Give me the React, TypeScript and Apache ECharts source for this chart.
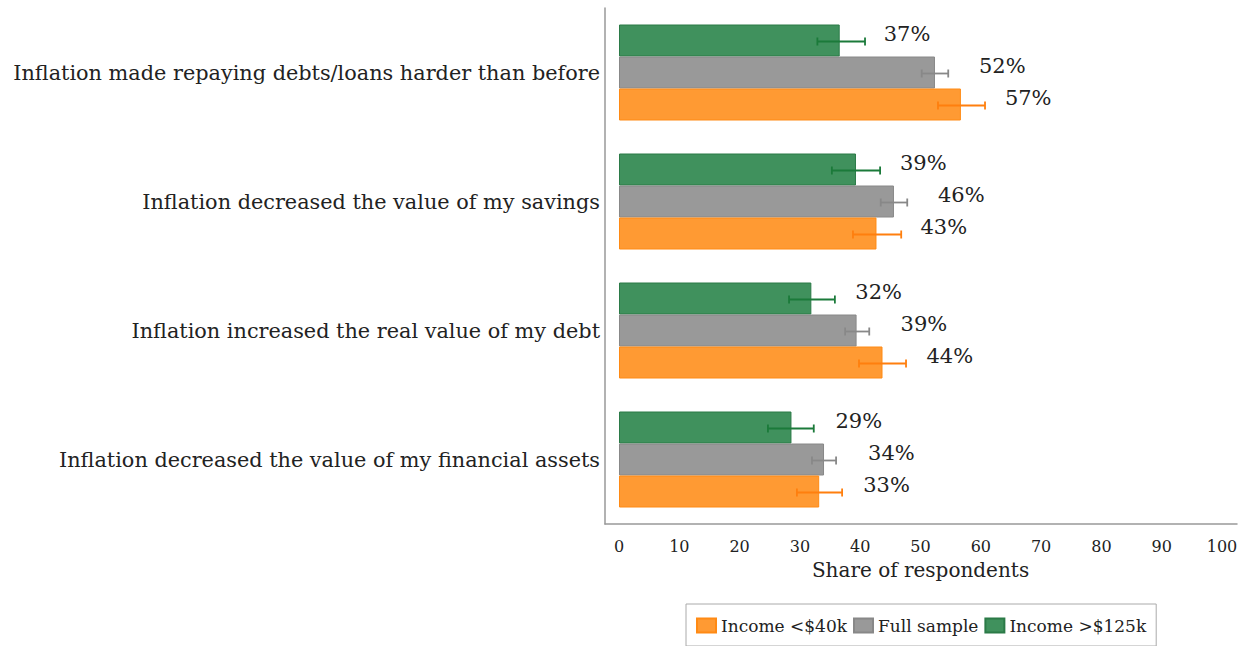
import React, { useEffect, useRef } from "react";
import * as echarts from "echarts";

const categories = [
  "Inflation made repaying debts/loans harder than before",
  "Inflation decreased the value of my savings",
  "Inflation increased the real value of my debt",
  "Inflation decreased the value of my financial assets",
];
const seriesNames = ["Income <$40k", "Full sample", "Income >$125k"];
const lowIncome = [56.7, 42.7, 43.7, 33.2];
const fullSample = [52.4, 45.6, 39.4, 34.0];
const highIncome = [36.6, 39.3, 31.9, 28.6];
const lowIncomeErrLo = [52.9, 38.8, 39.8, 29.5];
const lowIncomeErrHi = [60.7, 46.8, 47.6, 37.0];
const fullErrLo = [50.2, 43.4, 37.5, 32.0];
const fullErrHi = [54.6, 47.8, 41.5, 36.0];
const highErrLo = [32.9, 35.3, 28.2, 24.7];
const highErrHi = [40.8, 43.3, 35.8, 32.3];
const xTicks = [0, 10, 20, 30, 40, 50, 60, 70, 80, 90, 100];

const FONT = "DejaVu Serif";

const styles = [
  { name: seriesNames[2], values: highIncome, lo: highErrLo, hi: highErrHi, fill: "#40915d", border: "#2b7a47", err: "#1b7a3a" },
  { name: seriesNames[1], values: fullSample, lo: fullErrLo, hi: fullErrHi, fill: "#999999", border: "#888888", err: "#888888" },
  { name: seriesNames[0], values: lowIncome, lo: lowIncomeErrLo, hi: lowIncomeErrHi, fill: "#ff9a33", border: "#ff8a14", err: "#ff7f0e" },
];

export default function App() {
  const ref = useRef<HTMLDivElement>(null);
  useEffect(() => {
    const chart = echarts.init(ref.current!, null, { renderer: "svg" });
    const BAR = 32;
    const barSeries = styles.map((s) => ({
      type: "bar",
      name: s.name,
      xAxisIndex: 0,
      yAxisIndex: 0,
      barWidth: BAR,
      barGap: "0%",
      data: s.values,
      itemStyle: { color: s.fill, borderColor: s.border, borderWidth: 1 },
      label: {
        show: true,
        position: "right",
        distance: 44,
        offset: [0, -7],
        fontFamily: FONT,
        fontSize: 21,
        color: "#222",
        formatter: (p: any) => Math.round(p.value) + "%",
      },
      z: 2,
    }));
    const errSeries = styles.map((s, i) => {
      const off = (i - 1) * BAR + 1;
      return {
        type: "custom",
        name: s.name + " err",
        xAxisIndex: 0,
        yAxisIndex: 0,
        encode: { x: [1, 2], y: 0 },
        data: categories.map((_, k) => [k, s.lo[k], s.hi[k]]),
        z: 5,
        silent: true,
        renderItem: (params: any, api: any) => {
          const k = api.value(0);
          const p1 = api.coord([api.value(1), k]);
          const p2 = api.coord([api.value(2), k]);
          const y = p1[1] + off;
          const st = { stroke: s.err, lineWidth: 1.8 };
          return {
            type: "group",
            children: [
              { type: "line", shape: { x1: p1[0], y1: y, x2: p2[0], y2: y }, style: st },
              { type: "line", shape: { x1: p1[0], y1: y - 4, x2: p1[0], y2: y + 4 }, style: st },
              { type: "line", shape: { x1: p2[0], y1: y - 4, x2: p2[0], y2: y + 4 }, style: st },
            ],
          };
        },
      };
    });
    chart.setOption({
      animation: false,
      backgroundColor: "#ffffff",
      grid: [
        { left: 619, width: 603, top: 8, height: 516 },
        { left: 605, right: 14, top: 8, height: 516 },
      ],
      xAxis: [
        {
          type: "value",
          gridIndex: 0,
          min: 0,
          max: 100,
          interval: 10,
          axisLine: { show: false },
          axisTick: { show: false },
          splitLine: { show: false },
          axisLabel: {
            margin: 14,
            fontFamily: FONT,
            fontSize: 16,
            color: "#222",
            customValues: xTicks,
          },
          name: "Share of respondents",
          nameLocation: "middle",
          nameGap: 36,
          nameTextStyle: { fontFamily: FONT, fontSize: 20, color: "#222" },
        },
        {
          type: "value",
          gridIndex: 1,
          min: 0,
          max: 1,
          axisLine: { show: true, onZero: false, lineStyle: { color: "#999", width: 1.5 } },
          axisTick: { show: false },
          axisLabel: { show: false },
          splitLine: { show: false },
        },
      ],
      yAxis: [
        {
          type: "category",
          gridIndex: 0,
          data: categories,
          inverse: true,
          axisLine: { show: false },
          axisTick: { show: false },
          splitLine: { show: false },
          axisLabel: {
            margin: 19,
            fontFamily: FONT,
            fontSize: 20.8,
            color: "#222",
            padding: [0, 0, 6, 0],
          },
        },
        {
          type: "value",
          gridIndex: 1,
          min: 0,
          max: 1,
          axisLine: { show: true, onZero: false, lineStyle: { color: "#999", width: 1.5 } },
          axisTick: { show: false },
          axisLabel: { show: false },
          splitLine: { show: false },
        },
      ],
      legend: {
        data: seriesNames,
        left: 686,
        top: 604,
        orient: "horizontal",
        borderColor: "#aaa",
        borderWidth: 1,
        padding: [13, 10, 12, 10],
        itemWidth: 19,
        itemHeight: 14,
        itemGap: 6,
        icon: "rect",
        textStyle: { fontFamily: FONT, fontSize: 17, color: "#222" },
      },
      series: [...barSeries, ...errSeries],
    });
    return () => chart.dispose();
  }, []);
  return (
    <div
      ref={ref}
      style={{ position: "fixed", left: 0, top: 0, width: 1251, height: 646 }}
    />
  );
}
